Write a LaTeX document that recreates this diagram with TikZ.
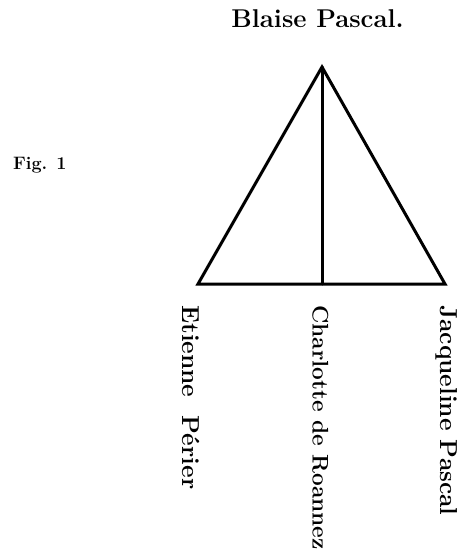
\documentclass[tikz,border=0pt]{standalone}
\usepackage{fontspec}
\usepackage{tikz}
\usetikzlibrary{positioning}

\begin{document}
\begin{tikzpicture}[
  x=1pt, y=-1pt,
  edge/.style={line width=3pt, line join=miter, line cap=round},
  head/.style={font=\fontsize{25.7}{30}\selectfont\bfseries, inner sep=0pt, anchor=base},
  fig/.style={font=\fontsize{18}{21}\selectfont\bfseries, inner sep=0pt, anchor=base west},
  kin/.style={font=\fontsize{24.5}{29}\selectfont\bfseries, inner sep=0pt, anchor=base west, rotate=-90},
]
\useasboundingbox (0,0) rectangle (463,556);
\def\yb{284}\def\yt{305}

% ---------- triangle ----------
\coordinate (apex) at (322,67);
\coordinate (bl) at (198,\yb);
\coordinate (bm) at (322,\yb);
\coordinate (br) at (445,\yb);
\draw[edge] (apex) -- (bl) -- (br) -- cycle;
\draw[edge] (apex) -- (bm);

% ---------- labels ----------
\node[head] (blaise) at (317.5,28) {Blaise Pascal.};
\node[fig] (figno) at (13,169) {Fig. 1};

\node[kin] (etienne) at (182,\yt) {Etienne\ \ Périer};
\node[kin, font=\fontsize{22.6}{27}\selectfont\bfseries] (charlotte) at (312.5,\yt) {Charlotte de Roannez};
\node[kin] (jacqueline) at (440,\yt) {Jacqueline Pascal};
\end{tikzpicture}
\end{document}
